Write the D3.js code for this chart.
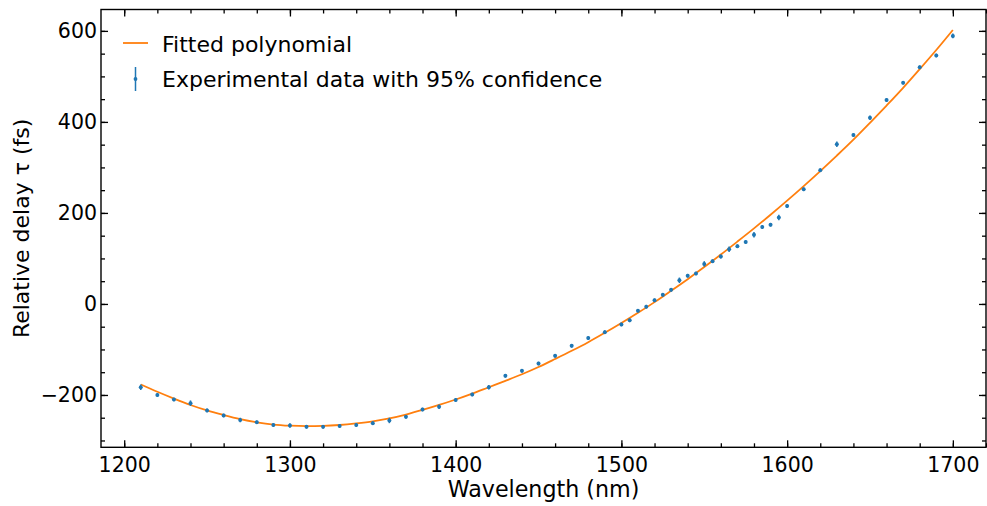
<!DOCTYPE html>
<html><head><meta charset="utf-8">
<script src="https://cdn.jsdelivr.net/npm/d3@7"></script>
<style>body{margin:0;background:#fff}svg{display:block}text{font-family:"DejaVu Sans",sans-serif;fill:#000}</style>
</head><body><svg id="c" width="987" height="506"></svg>
<script>
// Experimental data (wavelength nm, relative delay fs, 95% confidence half-width fs)
const dataX = [1210,1220,1230,1240,1250,1260,1270,1280,1290,1300,1310,1320,1330,1340,1350,1360,1370,1380,1390,1400,1410,1420,1430,1440,1450,1460,1470,1480,1490,1500,1505,1510,1515,1520,1525,1530,1535,1540,1545,1550,1555,1560,1565,1570,1575,1580,1585,1590,1595,1600,1610,1620,1630,1640,1650,1660,1670,1680,1690,1700];
const dataY = [-183,-200,-210,-218,-234,-245,-255,-260,-266,-267,-270,-270,-268,-266,-262,-256,-248,-232,-226,-211,-199,-183,-158,-147,-131,-114,-92,-75,-62,-45,-36,-15,-6,8,20,31,52,62,67,88,94,104,120,127,136,152,169,174,190,215,252,294,351,371,409,448,486,520,546,589];
const dataErr = [6,4,4,6,4,4,5,4,4,5,4,4,4,4,4,6,4,4,5,4,4,5,4,4,4,4,4,4,4,4,4,4,4,4,4,4,6,4,4,6,4,4,6,4,4,6,4,4,6,4,4,4,6,4,5,4,4,4,4,5];
const fitX = [1210,1220,1230,1240,1250,1260,1270,1280,1290,1300,1310,1320,1330,1340,1350,1360,1370,1380,1390,1400,1410,1420,1430,1440,1450,1460,1470,1480,1490,1500,1510,1520,1530,1540,1550,1560,1570,1580,1590,1600,1610,1620,1630,1640,1650,1660,1670,1680,1690,1700];
const fitY = [-177,-193,-208,-222,-234,-244,-253,-260,-265,-267.5,-268.5,-268,-266,-262.5,-258,-251.5,-243,-233,-222,-210,-197,-183,-169,-154.5,-138.5,-121,-103,-84,-63.5,-42,-19.5,4,29,54.5,81,108.5,137,166,196,227,259,292,326,361,398,436,475,516,558,602];
const xMajor = [1200,1300,1400,1500,1600,1700];
const yMajor = [-200,0,200,400,600];
const legendLabels = ["Fitted polynomial","Experimental data with 95% confidence"];

const svg = d3.select("#c");
const L=101, R=986, T=9.5, B=447.3;
const x = d3.scaleLinear().domain([1186,1720]).range([L,R]);
const y = d3.scaleLinear().domain([-315,647]).range([B,T]);
const blue="#1f77b4", orange="#ff7f0e";

const xMinor = d3.range(1200,1721,20);
const yMinor = d3.range(-300,601,50);
const fmt = d3.format("");

function ax(g, axis){ g.call(axis); g.select(".domain").remove(); g.selectAll(".tick line").attr("stroke","#000").attr("stroke-width",1.3); }
// bottom
ax(svg.append("g").attr("transform",`translate(0,${B})`), d3.axisBottom(x).tickValues(xMinor).tickSize(-4).tickFormat(""));
const gb=svg.append("g").attr("transform",`translate(0,${B})`);
ax(gb, d3.axisBottom(x).tickValues(xMajor).tickSize(-7).tickPadding(10).tickFormat(fmt));
gb.selectAll("text").attr("font-size",20.5).attr("font-family","DejaVu Sans");
// top
ax(svg.append("g").attr("transform",`translate(0,${T})`), d3.axisTop(x).tickValues(xMinor).tickSize(-4).tickFormat(""));
ax(svg.append("g").attr("transform",`translate(0,${T})`), d3.axisTop(x).tickValues(xMajor).tickSize(-7).tickFormat(""));
// left
ax(svg.append("g").attr("transform",`translate(${L},0)`), d3.axisLeft(y).tickValues(yMinor).tickSize(-4).tickFormat(""));
const gl=svg.append("g").attr("transform",`translate(${L},0)`);
ax(gl, d3.axisLeft(y).tickValues(yMajor).tickSize(-7).tickPadding(4).tickFormat(d3.format("")));
gl.selectAll("text").attr("font-size",20.5).attr("font-family","DejaVu Sans");
// right
ax(svg.append("g").attr("transform",`translate(${R},0)`), d3.axisRight(y).tickValues(yMinor).tickSize(-4).tickFormat(""));
ax(svg.append("g").attr("transform",`translate(${R},0)`), d3.axisRight(y).tickValues(yMajor).tickSize(-7).tickFormat(""));

// frame
svg.append("rect").attr("x",L).attr("y",T).attr("width",R-L).attr("height",B-T).attr("fill","none").attr("stroke","#000").attr("stroke-width",1.4);

// fitted line
const fit = fitX.map((v,i)=>[v,fitY[i]]);
svg.append("path").datum(fit).attr("fill","none").attr("stroke",orange).attr("stroke-width",1.8)
  .attr("d", d3.line().x(d=>x(d[0])).y(d=>y(d[1])).curve(d3.curveMonotoneX));

// error bars + points
const pts = dataX.map((v,i)=>({x:v,y:dataY[i],e:dataErr[i]}));
svg.append("g").selectAll("line").data(pts).join("line")
  .attr("x1",d=>x(d.x)).attr("x2",d=>x(d.x)).attr("y1",d=>y(d.y-d.e)).attr("y2",d=>y(d.y+d.e))
  .attr("stroke",blue).attr("stroke-width",1.5);
svg.append("g").selectAll("circle").data(pts).join("circle")
  .attr("cx",d=>x(d.x)).attr("cy",d=>y(d.y)).attr("r",2).attr("fill",blue);

// legend
svg.append("line").attr("x1",123).attr("x2",148).attr("y1",43).attr("y2",43).attr("stroke",orange).attr("stroke-width",1.8);
svg.append("line").attr("x1",135.5).attr("x2",135.5).attr("y1",67).attr("y2",91).attr("stroke",blue).attr("stroke-width",1.5);
svg.append("circle").attr("cx",135.5).attr("cy",79).attr("r",1.9).attr("fill",blue);
svg.append("text").attr("x",162).attr("y",51.5).attr("font-size",22).text(legendLabels[0]);
svg.append("text").attr("x",162).attr("y",87).attr("font-size",22).text(legendLabels[1]);

// axis labels
svg.append("text").attr("x",(L+R)/2).attr("y",497).attr("text-anchor","middle").attr("font-size",22.2).text("Wavelength (nm)");
svg.append("text").attr("transform",`translate(29,${(T+B)/2}) rotate(-90)`).attr("text-anchor","middle").attr("font-size",22).text("Relative delay τ (fs)");
</script></body></html>
